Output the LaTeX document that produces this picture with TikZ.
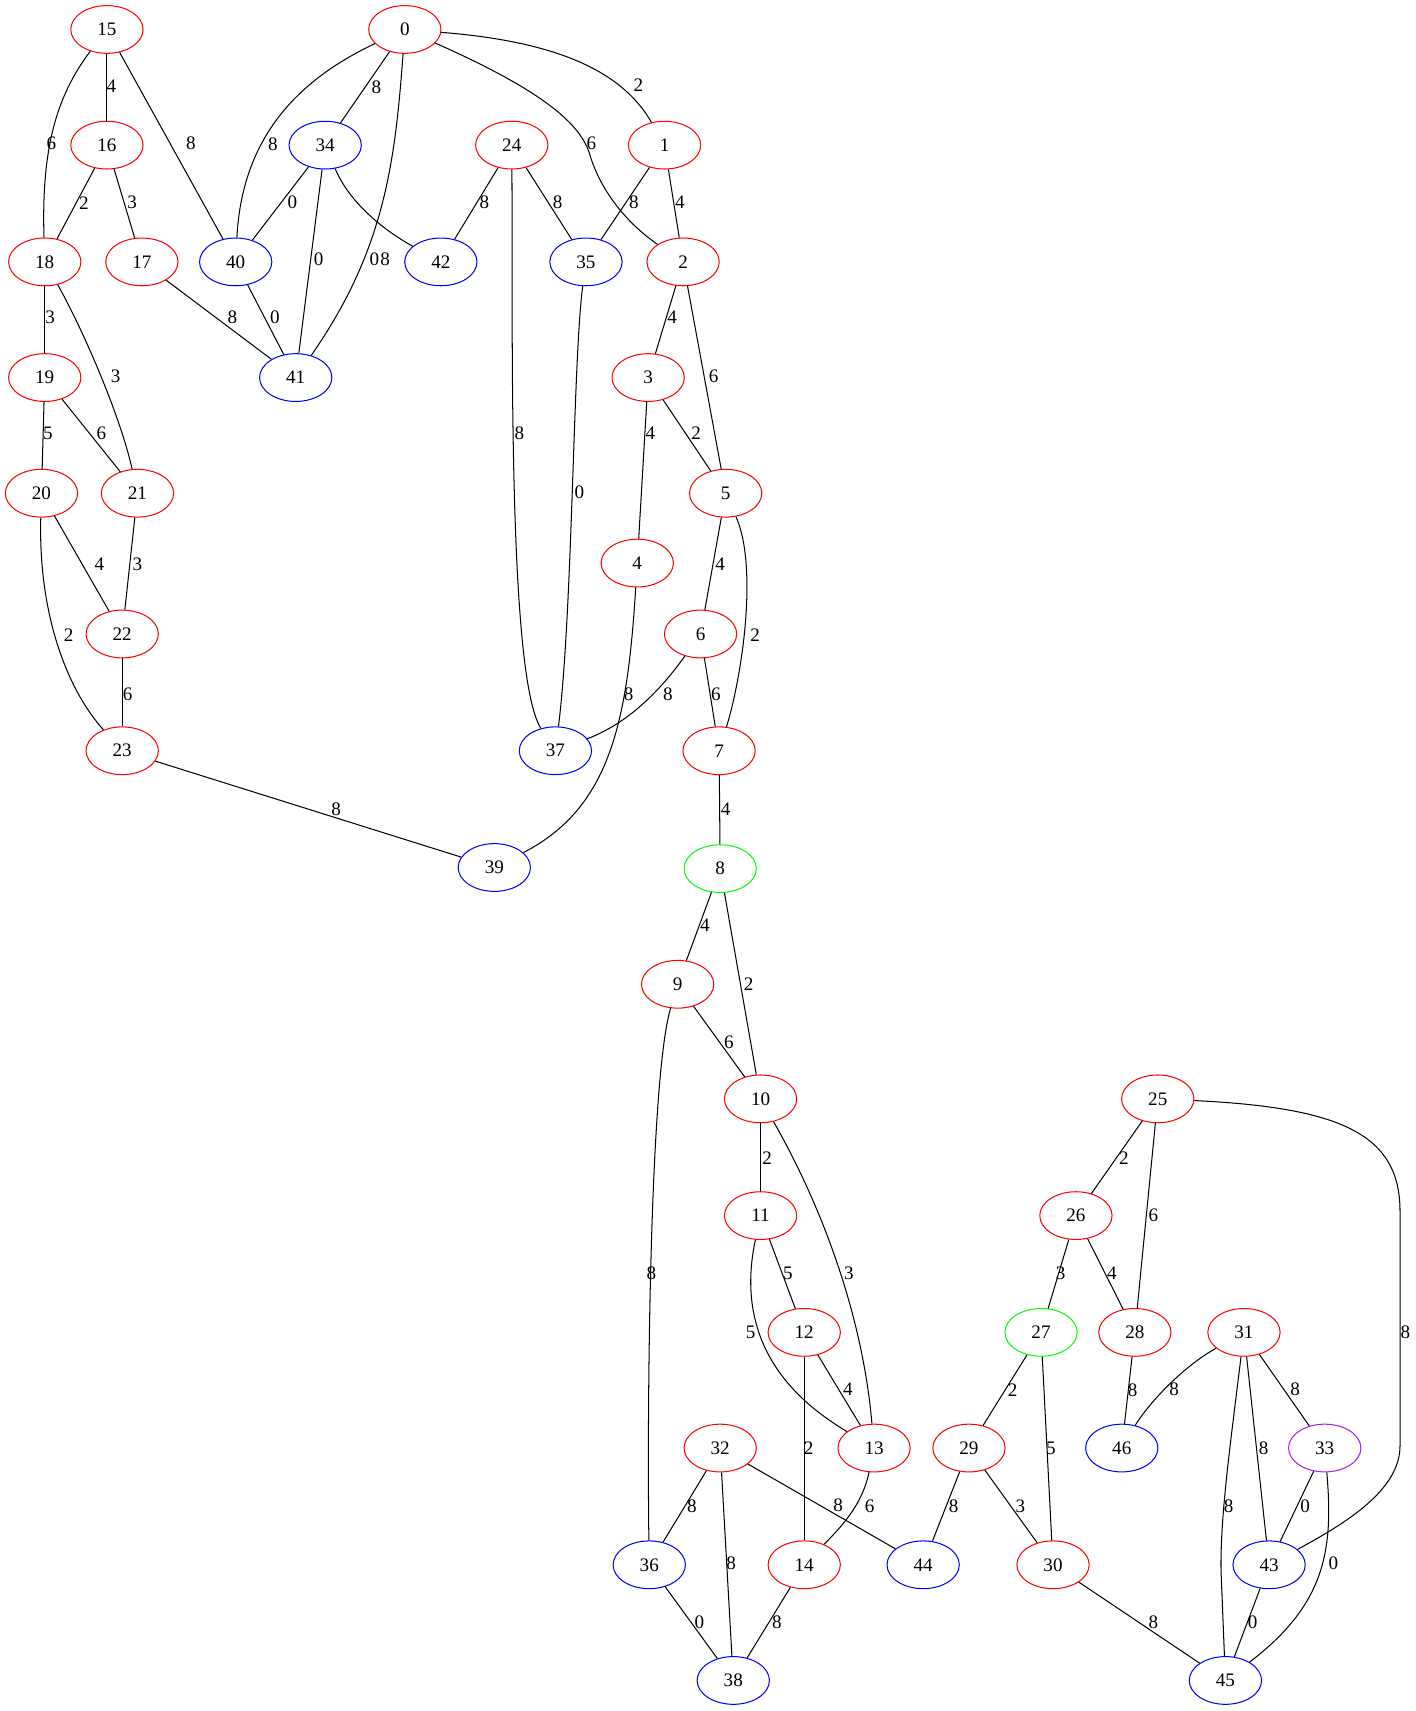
\documentclass[tikz,border=0pt]{standalone}
\usepackage{fontspec}
\setmainfont{Liberation Serif}
\usetikzlibrary{shapes.geometric}
\begin{document}
\begin{tikzpicture}[x=0.8pt,y=-0.8pt,
  vtx/.style={draw,ellipse,minimum width=53pt,minimum height=35pt,inner sep=0pt,line width=0.75pt,font=\fontsize{14pt}{16pt}\selectfont},
  rv/.style={vtx,draw=red},
  bv/.style={vtx,draw=blue},
  gv/.style={vtx,draw={rgb,255:red,0;green,255;blue,0}},
  pv/.style={vtx,draw={rgb,255:red,160;green,32;blue,240}},
  lbl/.style={inner sep=0pt,font=\fontsize{14pt}{16pt}\selectfont},
  every path/.style={line width=0.75pt}]
\useasboundingbox (0,0) rectangle (1297,1568);
% nodes
\node[rv] (n0) at (371,27) {0};
\node[rv] (n15) at (98,27) {15};
\node[rv] (n16) at (98,133) {16};
\node[bv] (n34) at (298,133) {34};
\node[rv] (n24) at (469,133) {24};
\node[rv] (n1) at (609,133) {1};
\node[rv] (n18) at (41,240) {18};
\node[rv] (n17) at (130,240) {17};
\node[bv] (n40) at (216,240) {40};
\node[bv] (n42) at (404,240) {42};
\node[bv] (n35) at (537,240) {35};
\node[rv] (n2) at (626,240) {2};
\node[rv] (n19) at (41,346) {19};
\node[bv] (n41) at (271,346) {41};
\node[rv] (n3) at (594,346) {3};
\node[rv] (n20) at (38,452) {20};
\node[rv] (n21) at (126,452) {21};
\node[rv] (n5) at (665,452) {5};
\node[rv] (n4) at (584,516) {4};
\node[rv] (n22) at (112,581) {22};
\node[rv] (n6) at (642,581) {6};
\node[rv] (n23) at (112,688) {23};
\node[bv] (n37) at (509,688) {37};
\node[rv] (n7) at (659,688) {7};
\node[bv] (n39) at (453,795) {39};
\node[gv] (n8) at (660,796) {8};
\node[rv] (n9) at (621,902) {9};
\node[rv] (n10) at (697,1007) {10};
\node[rv] (n25) at (1061,1007) {25};
\node[rv] (n11) at (697,1114) {11};
\node[rv] (n26) at (986,1114) {26};
\node[rv] (n12) at (737,1221) {12};
\node[gv] (n27) at (954,1221) {27};
\node[rv] (n28) at (1040,1221) {28};
\node[rv] (n31) at (1140,1221) {31};
\node[rv] (n32) at (660,1327) {32};
\node[rv] (n13) at (801,1327) {13};
\node[rv] (n29) at (888,1327) {29};
\node[bv] (n46) at (1028,1327) {46};
\node[pv] (n33) at (1214,1327) {33};
\node[bv] (n36) at (595,1434) {36};
\node[rv] (n14) at (737,1434) {14};
\node[bv] (n44) at (846,1434) {44};
\node[rv] (n30) at (965,1434) {30};
\node[bv] (n43) at (1163,1434) {43};
\node[bv] (n38) at (672,1540) {38};
\node[bv] (n45) at (1123,1540) {45};
% straight edges
\draw (n0) -- (n34);
\draw (n15) -- (n16);
\draw (n15) -- (n40);
\draw (n16) -- (n18);
\draw (n16) -- (n17);
\draw (n34) -- (n40);
\draw (n34) -- (n41);
\draw (n24) -- (n42);
\draw (n24) -- (n35);
\draw (n1) -- (n35);
\draw (n1) -- (n2);
\draw (n17) -- (n41);
\draw (n40) -- (n41);
\draw (n2) -- (n3);
\draw (n2) -- (n5);
\draw (n18) -- (n19);
\draw (n19) -- (n20);
\draw (n19) -- (n21);
\draw (n3) -- (n4);
\draw (n3) -- (n5);
\draw (n20) -- (n22);
\draw (n21) -- (n22);
\draw (n5) -- (n6);
\draw (n22) -- (n23);
\draw (n6) -- (n7);
\draw (n23) -- (n39);
\draw (n7) -- (n8);
\draw (n8) -- (n9);
\draw (n8) -- (n10);
\draw (n9) -- (n10);
\draw (n10) -- (n11);
\draw (n25) -- (n26);
\draw (n25) -- (n28);
\draw (n11) -- (n12);
\draw (n26) -- (n27);
\draw (n26) -- (n28);
\draw (n12) -- (n13);
\draw (n12) -- (n14);
\draw (n27) -- (n29);
\draw (n27) -- (n30);
\draw (n28) -- (n46);
\draw (n31) -- (n33);
\draw (n31) -- (n43);
\draw (n32) -- (n36);
\draw (n32) -- (n38);
\draw (n32) -- (n44);
\draw (n29) -- (n44);
\draw (n29) -- (n30);
\draw (n33) -- (n43);
\draw (n36) -- (n38);
\draw (n14) -- (n38);
\draw (n30) -- (n45);
\draw (n43) -- (n45);
% curved edges
\draw (n18) .. controls (75,300) and (110,380) .. (n21);
\draw (n0) .. controls (280,70) and (222,120) .. (n40);
\draw (n0) .. controls (362,150) and (352,230) .. (n41);
\draw (n0) .. controls (490,80) and (530,110) .. (540,140) .. controls (550,175) and (575,205) .. (n2);
\draw (n0) .. controls (510,38) and (570,65) .. (n1);
\draw (n34) .. controls (320,185) and (350,210) .. (n42);
\draw (n15) .. controls (50,90) and (38,140) .. (n18);
\draw (n20) .. controls (35,560) and (60,630) .. (n23);
\draw (n5) .. controls (695,520) and (680,620) .. (n7);
\draw (n4) .. controls (575,660) and (560,740) .. (n39);
\draw (n6) .. controls (600,640) and (570,665) .. (n37);
\draw (n24) .. controls (470,300) and (465,620) .. (n37);
\draw (n35) .. controls (525,330) and (525,560) .. (n37);
\draw (n9) .. controls (595,990) and (593,1300) .. (n36);
\draw (n10) .. controls (750,1100) and (790,1200) .. (n13);
\draw (n11) .. controls (670,1240) and (740,1290) .. (n13);
\draw (n25) .. controls (1230,1015) and (1283,1040) .. (1283,1110) -- (1283,1325) .. controls (1283,1365) and (1235,1395) .. (n43);
\draw (n31) .. controls (1080,1255) and (1050,1290) .. (n46);
\draw (n31) .. controls (1128,1320) and (1118,1390) .. (1119,1440) -- (n45);
\draw (n13) .. controls (790,1380) and (770,1400) .. (n14);
\draw (n33) .. controls (1222,1420) and (1215,1470) .. (n45);
% labels
\node[lbl] (l0_34) at (345,80) {8};
\node[lbl] (l0_40) at (250,132) {8};
\node[lbl] (l0_41) at (353,238) {8};
\node[lbl] (l0_2) at (542,131) {6};
\node[lbl] (l0_1) at (585,78) {2};
\node[lbl] (l15_16) at (102,79) {4};
\node[lbl] (l15_18) at (47,131) {6};
\node[lbl] (l15_40) at (175,131) {8};
\node[lbl] (l16_18) at (77,186) {2};
\node[lbl] (l16_17) at (121,185) {3};
\node[lbl] (l34_40) at (268,185) {0};
\node[lbl] (l34_41) at (292,238) {0};
\node[lbl] (l34_42) at (343,238) {0};
\node[lbl] (l24_42) at (444,185) {8};
\node[lbl] (l24_35) at (511,185) {8};
\node[lbl] (l24_37) at (476,397) {8};
\node[lbl] (l1_35) at (581,185) {8};
\node[lbl] (l1_2) at (623,185) {4};
\node[lbl] (l17_41) at (213,291) {8};
\node[lbl] (l40_41) at (252,291) {0};
\node[lbl] (l35_37) at (531,451) {0};
\node[lbl] (l2_3) at (616,291) {4};
\node[lbl] (l2_5) at (654,345) {6};
\node[lbl] (l18_19) at (46,291) {3};
\node[lbl] (l18_21) at (106,345) {3};
\node[lbl] (l19_20) at (44,397) {5};
\node[lbl] (l19_21) at (93,397) {6};
\node[lbl] (l3_4) at (596,397) {4};
\node[lbl] (l3_5) at (638,397) {2};
\node[lbl] (l20_22) at (91,517) {4};
\node[lbl] (l20_23) at (63,582) {2};
\node[lbl] (l21_22) at (126,517) {3};
\node[lbl] (l5_6) at (660,517) {4};
\node[lbl] (l5_7) at (692,582) {2};
\node[lbl] (l4_39) at (576,636) {8};
\node[lbl] (l22_23) at (117,636) {6};
\node[lbl] (l6_37) at (612,636) {8};
\node[lbl] (l6_7) at (656,636) {6};
\node[lbl] (l23_39) at (308,742) {8};
\node[lbl] (l7_8) at (665,742) {4};
\node[lbl] (l8_9) at (646,848) {4};
\node[lbl] (l8_10) at (686,902) {2};
\node[lbl] (l9_10) at (668,955) {6};
\node[lbl] (l9_36) at (597,1167) {8};
\node[lbl] (l10_11) at (703,1061) {2};
\node[lbl] (l10_13) at (778,1167) {3};
\node[lbl] (l25_26) at (1030,1061) {2};
\node[lbl] (l25_28) at (1057,1114) {6};
\node[lbl] (l25_43) at (1288,1221) {8};
\node[lbl] (l11_12) at (722,1167) {5};
\node[lbl] (l11_13) at (688,1221) {5};
\node[lbl] (l26_27) at (972,1167) {3};
\node[lbl] (l26_28) at (1019,1167) {4};
\node[lbl] (l12_13) at (777,1273) {4};
\node[lbl] (l12_14) at (741,1327) {2};
\node[lbl] (l27_29) at (928,1274) {2};
\node[lbl] (l27_30) at (963,1327) {5};
\node[lbl] (l28_46) at (1038,1274) {8};
\node[lbl] (l31_46) at (1076,1273) {8};
\node[lbl] (l31_33) at (1187,1273) {8};
\node[lbl] (l31_43) at (1158,1327) {8};
\node[lbl] (l31_45) at (1126,1380) {8};
\node[lbl] (l32_36) at (634,1380) {8};
\node[lbl] (l32_38) at (670,1433) {8};
\node[lbl] (l32_44) at (768,1379) {8};
\node[lbl] (l13_14) at (797,1380) {6};
\node[lbl] (l29_44) at (874,1380) {8};
\node[lbl] (l29_30) at (935,1380) {3};
\node[lbl] (l33_43) at (1196,1380) {0};
\node[lbl] (l33_45) at (1222,1433) {0};
\node[lbl] (l36_38) at (641,1487) {0};
\node[lbl] (l14_38) at (712,1487) {8};
\node[lbl] (l30_45) at (1057,1487) {8};
\node[lbl] (l43_45) at (1148,1487) {0};
\end{tikzpicture}
\end{document}
